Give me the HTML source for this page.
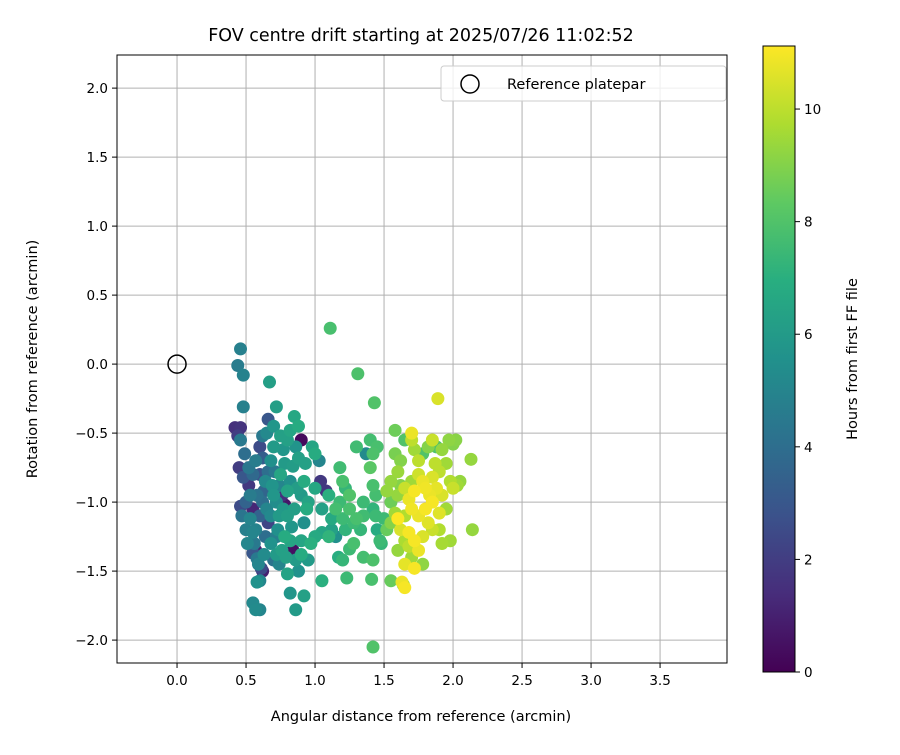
<!DOCTYPE html>
<html><head><meta charset="utf-8"><style>
body{margin:0;background:#fff}
svg text{font-family:"DejaVu Sans","Liberation Sans",sans-serif;fill:#000}
</style></head><body>
<svg id="chart" width="900" height="750" xmlns="http://www.w3.org/2000/svg">
<defs>
<linearGradient id="vir" x1="0" y1="1" x2="0" y2="0">
<stop offset="0" stop-color="#440154"/><stop offset="0.125" stop-color="#472d7b"/><stop offset="0.25" stop-color="#3b528b"/><stop offset="0.375" stop-color="#2c728e"/><stop offset="0.5" stop-color="#21918c"/><stop offset="0.625" stop-color="#28ae80"/><stop offset="0.75" stop-color="#5ec962"/><stop offset="0.875" stop-color="#addc30"/><stop offset="1" stop-color="#fde725"/>
</linearGradient>
<clipPath id="clip"><rect x="117" y="55" width="610" height="608"/></clipPath>
</defs>
<text x="421" y="41" font-size="17.5" text-anchor="middle">FOV centre drift starting at 2025/07/26 11:02:52</text>
<g id="grid"></g>
<g id="points" clip-path="url(#clip)"></g>
<rect x="117" y="55" width="610" height="608" fill="none" stroke="#000" stroke-width="1"/>
<g id="xticks"></g><g id="yticks"></g>
<text x="421" y="721" font-size="14.5" text-anchor="middle">Angular distance from reference (arcmin)</text>
<text transform="translate(37,359) rotate(-90)" font-size="14.5" text-anchor="middle">Rotation from reference (arcmin)</text>
<g>
<rect x="441" y="66" width="285" height="35" rx="3" fill="#fff" fill-opacity="0.8" stroke="#ccc"/>
<circle cx="470" cy="84" r="9" fill="none" stroke="#000" stroke-width="1.5"/>
<text x="507" y="89" font-size="14.5">Reference platepar</text>
</g>
<rect x="763" y="46" width="32" height="626" fill="url(#vir)" stroke="#000" stroke-width="1"/>
<g id="cbticks"></g>
<text transform="translate(857,359) rotate(-90)" font-size="14.5" text-anchor="middle">Hours from first FF file</text>
</svg>
<script>
const xTicks=[0,0.5,1,1.5,2,2.5,3,3.5];
const yTicks=[2,1.5,1,0.5,0,-0.5,-1,-1.5,-2];
const cbTicks=[0,2,4,6,8,10];
const refPoint=[0,0];
const points=[
[1.11,0.26,7.8],[1.31,-0.07,7.9],[1.43,-0.28,8],[1.89,-0.25,10.5],[1.42,-2.05,8],[0.46,0.11,4.8],[0.44,-0.01,4.6],[0.48,-0.08,4.9],[0.67,-0.13,6.2],[0.48,-0.31,4.8],[0.55,-1.73,5.2],[0.60,-1.78,5],[0.57,-1.78,5.3],[0.86,-1.78,6],[0.82,-1.66,5.8],[0.92,-1.68,6.3],[0.60,-1.57,5],[1.05,-1.57,7],[1.23,-1.55,7.5],[1.41,-1.56,7.8],[1.63,-1.58,10.8],[1.65,-1.62,11],[1.64,-1.60,9],[1.55,-1.57,8.5],
[0.42,-0.46,1.5],[0.46,-0.46,1.6],[0.44,-0.52,2],[0.46,-0.55,4.5],[0.45,-0.75,2],[0.49,-0.65,4],[0.52,-0.88,1.8],[0.48,-0.82,3],[0.46,-1.03,2.5],[0.50,-1.0,3.5],[0.47,-1.1,4.3],[0.53,-1.12,5],[0.55,-1.22,5],[0.56,-1.3,4.5],[0.55,-1.37,3],[0.57,-1.35,1],[0.58,-1.41,4.5],[0.59,-1.45,5],[0.61,-1.48,2.5],[0.62,-1.5,1],[0.60,-1.1,3.5],[0.62,-1.0,4],[0.58,-0.95,4.2],[0.55,-0.8,3.8],[0.57,-0.7,4.6],[0.60,-0.6,2.5],[0.62,-0.52,4.5],[0.65,-0.5,5.2],[0.66,-0.4,3],[0.70,-0.45,5.8],[0.72,-0.31,6.2],[0.70,-0.6,6],[0.68,-0.7,5.5],[0.66,-0.78,4],[0.64,-0.85,5.2],[0.63,-0.92,3.6],[0.65,-1.05,5],[0.66,-1.15,2.3],[0.64,-1.25,4],[0.68,-1.3,5.6],[0.70,-1.42,4.2],[0.72,-1.38,6],[0.74,-1.45,5],[0.76,-1.35,6.3],[0.73,-1.2,5.5],[0.74,-1.1,6],[0.72,-1.0,5.4],[0.76,-0.95,1.5],[0.74,-0.88,5],[0.75,-0.8,6.5],[0.78,-0.72,6],[0.77,-0.62,5.8],[0.80,-0.55,6.3],[0.82,-0.48,6.5],[0.85,-0.38,6.6],[0.86,-0.6,5.7],[0.90,-0.55,0.3],[0.88,-0.68,6.3],[0.84,-0.74,6.1],[0.82,-0.85,5.5],[0.80,-0.92,6.4],[0.78,-1.02,0.7],[0.80,-1.1,6.2],[0.83,-1.18,5.8],[0.82,-1.28,6.5],[0.84,-1.35,0.5],[0.86,-1.42,6],[0.88,-1.5,5.6],[0.80,-1.52,6.4],[0.90,-1.28,6.5],[0.92,-1.15,5.5],[0.94,-1.05,6.8],[0.90,-0.95,6],[0.92,-0.85,6.8],[0.93,-0.72,6.3],[0.98,-0.6,6.5],[1.0,-0.65,6.8],[1.03,-0.7,5],[1.0,-0.9,6.6],[1.04,-0.85,1.8],[1.08,-0.92,1.8],[1.05,-1.05,6.3],[1.0,-1.25,6.7],[0.97,-1.3,7],[1.05,-1.22,6.5],[1.1,-0.95,7],[1.12,-1.2,6.3],[0.95,-1.42,6],[0.9,-1.38,6.8],[1.15,-1.25,5.5],[0.7,-0.95,5.8],[0.6,-0.8,2.8],[0.52,-0.75,4.4],[0.5,-1.2,4.8],[0.55,-1.05,1.2],[0.78,-1.25,6.8],[0.85,-1.05,6.2],[0.68,-1.1,5.2],[0.62,-0.68,3.3],[0.75,-0.52,6.3],[0.72,-1.25,4.8],[0.58,-1.58,5.6],[0.88,-0.45,6.8],
[0.53,-0.95,4.6],[0.57,-1.2,4.9],[0.69,-0.88,5.7],[0.77,-1.05,5.9],[0.87,-0.9,6.1],[0.79,-1.4,6.3],[0.63,-1.38,5.3],[0.71,-0.78,4.5],[0.95,-1.0,6.4],[0.51,-1.3,5.1],
[1.12,-1.12,6.7],[1.18,-1.0,7.5],[1.2,-0.85,7.8],[1.18,-0.75,7.6],[1.2,-1.12,7.5],[1.22,-1.2,7.2],[1.25,-1.05,7.8],[1.28,-1.15,7.5],[1.3,-1.12,7.8],[1.33,-1.2,7.3],[1.35,-1.1,7.6],[1.3,-0.6,7.6],[1.37,-0.65,5.3],[1.4,-0.55,7.7],[1.42,-0.65,7.9],[1.45,-0.6,7.8],[1.4,-0.75,8.2],[1.42,-0.88,7.8],[1.44,-0.95,7.7],[1.42,-1.05,7.2],[1.44,-1.1,7.5],[1.45,-1.2,6.8],[1.47,-1.28,7.5],[1.5,-1.12,7.5],[1.48,-1.3,7.3],[1.52,-1.2,8.5],[1.25,-1.34,7.5],[1.2,-1.42,7.3],[1.17,-1.4,6.9],[1.35,-1.4,7.7],[1.42,-1.42,7.9],[1.25,-0.95,8],[1.22,-0.9,7.3],[1.15,-1.05,7.7],[1.28,-1.3,7.8],[1.1,-1.25,7.2],[1.35,-1.0,7.5],
[1.55,-0.85,9.3],[1.58,-0.65,8.8],[1.58,-0.48,8.6],[1.62,-0.7,9],[1.65,-0.55,8],[1.70,-0.5,10.8],[1.70,-0.55,10],[1.72,-0.62,9.5],[1.75,-0.7,10],[1.78,-0.65,8],[1.82,-0.6,9],[1.85,-0.55,10.2],[1.88,-0.6,8],[1.92,-0.62,9.3],[1.97,-0.55,9.2],[2.0,-0.58,9],[2.02,-0.55,9.1],[2.13,-0.69,9.3],[1.95,-0.72,9.5],[1.9,-0.78,10],[1.85,-0.82,10.5],[1.78,-0.85,10.8],[1.75,-0.8,10.3],[1.7,-0.85,9.5],[1.65,-0.9,10.2],[1.62,-0.88,9],[1.6,-0.95,9.3],[1.68,-0.98,10.8],[1.72,-0.92,11],[1.8,-0.9,10.9],[1.83,-0.95,10.8],[1.88,-0.9,10.7],[1.92,-0.95,10.5],[1.98,-0.85,9.8],[2.0,-0.9,10.2],[2.03,-0.88,9.5],[2.05,-0.85,9.3],[1.95,-1.05,9.5],[1.9,-1.08,10.6],[1.85,-1.0,11],[1.8,-1.05,11],[1.75,-1.1,10.8],[1.7,-1.05,10.9],[1.65,-1.1,9.8],[1.6,-1.12,11.1],[1.58,-1.08,9.5],[1.55,-1.15,9],[1.62,-1.2,10.5],[1.68,-1.22,11],[1.72,-1.28,11],[1.78,-1.25,10.5],[1.85,-1.2,10.2],[1.9,-1.2,9.8],[1.92,-1.3,9.6],[1.98,-1.28,9.5],[2.14,-1.2,9.3],[1.65,-1.28,9.7],[1.6,-1.35,9.3],[1.7,-1.4,9.5],[1.75,-1.35,10.8],[1.72,-1.48,11],[1.65,-1.45,10.7],[1.78,-1.45,9.2],[1.68,-1.32,10],[1.82,-1.15,10.6],[1.87,-0.72,10],[1.6,-0.78,9.4],[1.52,-0.92,9.3],[1.55,-1.0,8.6]
];
const NS="http://www.w3.org/2000/svg";
const X0=117,X1=727,XMIN=-0.435,XMAX=3.985;
const Y0=55,Y1=663,YMAX=2.24,YMIN=-2.166;
const CMAX=11.12;
const sx=v=>X0+(v-XMIN)/(XMAX-XMIN)*(X1-X0);
const sy=v=>Y1-(v-YMIN)/(YMAX-YMIN)*(Y1-Y0);
const sc=v=>672-v/CMAX*626;
const stops=[[68,1,84],[71,45,123],[59,82,139],[44,114,142],[33,145,140],[40,174,128],[94,201,98],[173,220,48],[253,231,37]];
function vir(v){let t=Math.max(0,Math.min(1,v/CMAX))*8;let i=Math.min(7,Math.floor(t)),f=t-i;
const a=stops[i],b=stops[i+1];return `rgb(${a.map((c,k)=>Math.round(c+(b[k]-c)*f)).join(',')})`;}
function mk(tag,at,parent,txt){const e=document.createElementNS(NS,tag);for(const k in at)e.setAttribute(k,at[k]);if(txt!==undefined)e.textContent=txt;parent.appendChild(e);return e;}
const fmt=v=>(v<0?'\u2212':'')+Math.abs(v).toFixed(1);
const grid=document.getElementById('grid'),xt=document.getElementById('xticks'),yt=document.getElementById('yticks'),pts=document.getElementById('points'),cbt=document.getElementById('cbticks');
xTicks.forEach(v=>{const x=sx(v);
const g=mk('line',{x1:x,x2:x,y1:Y0,y2:Y1,stroke:'#b0b0b0','stroke-width':1},grid);


mk('line',{x1:x,x2:x,y1:Y1,y2:Y1+5,stroke:'#000'},xt);
const t=mk('text',{x:x,y:Y1+22,'font-size':13.5,'text-anchor':'middle'},xt,fmt(v));

});
yTicks.forEach(v=>{const y=sy(v);
const g=mk('line',{x1:X0,x2:X1,y1:y,y2:y,stroke:'#b0b0b0','stroke-width':1},grid);


mk('line',{x1:X0-5,x2:X0,y1:y,y2:y,stroke:'#000'},yt);
const t=mk('text',{x:X0-9,y:y+5,'font-size':13.5,'text-anchor':'end'},yt,fmt(v));

});
points.slice().sort((a,b)=>a[2]-b[2]).forEach(p=>{
const c=mk('circle',{cx:sx(p[0]),cy:sy(p[1]),r:6.5,fill:vir(p[2])},pts);

});
const ref=mk('circle',{cx:sx(refPoint[0]),cy:sy(refPoint[1]),r:9,fill:'none',stroke:'#000','stroke-width':1.5},pts);


cbTicks.forEach(v=>{const y=sc(v);
mk('line',{x1:795,x2:800,y1:y,y2:y,stroke:'#000'},cbt);
const t=mk('text',{x:804,y:y+5,'font-size':13.5},cbt,String(v));

});
</script>
</body></html>
